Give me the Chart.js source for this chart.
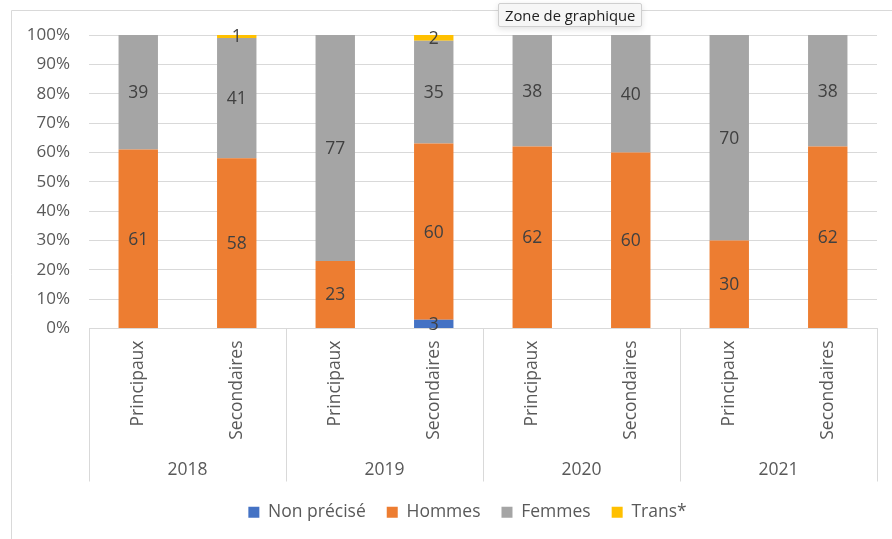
<!DOCTYPE html>
<html>
<head>
<meta charset="utf-8">
<script src="https://cdn.jsdelivr.net/npm/chart.js@4.4.1/dist/chart.umd.min.js"></script>
<style>
  body { margin: 0; background: #fff; }
  #wrap { position: relative; width: 892px; height: 539px; }
  #tip {
    position: absolute; left: 498px; top: 3px; height: 22px; padding: 0 6px;
    background: #f6f6f6; border: 1px solid #cfcfcf; border-radius: 2px;
    box-shadow: 0 2px 6px rgba(0,0,0,0.12);
    font: 14.8px "Open Sans", sans-serif; color: #222; line-height: 22px;
  }
</style>
</head>
<body>
<div id="wrap">
  <canvas id="chart" width="892" height="539"></canvas>
  <div id="tip">Zone de graphique</div>
</div>
<script>
const years = ['2018', '2019', '2020', '2021'];
const categories = ['Principaux', 'Secondaires', 'Principaux', 'Secondaires', 'Principaux', 'Secondaires', 'Principaux', 'Secondaires'];
const nonPrecise = [0, 0, 0, 3, 0, 0, 0, 0];
const hommes = [61, 58, 23, 60, 62, 60, 30, 62];
const femmes = [39, 41, 77, 35, 38, 40, 70, 38];
const trans = [0, 1, 0, 2, 0, 0, 0, 0];

const FONT = '"Open Sans", sans-serif';
const FS = 17.5;

// frame, year labels and separators
const decor = {
    id: 'decor',
    afterLayout(chart) {
        // move the legend a bit like in the original
        chart.legend.left += 29;
        chart.legend.right += 29;
        chart.legend.top += 3;
        chart.legend.bottom += 3;
    },
    beforeDraw(chart) {
        const ctx = chart.ctx;
        ctx.save();
        ctx.strokeStyle = '#d9d9d9';
        ctx.lineWidth = 1;
        ctx.beginPath();
        ctx.moveTo(11.5, 539);
        ctx.lineTo(11.5, 10.5);
        ctx.lineTo(892, 10.5);
        ctx.stroke();
        ctx.restore();
    },
    afterDraw(chart) {
        const ctx = chart.ctx;
        const x = chart.scales.x;
        const area = chart.chartArea;
        const bottom = x.bottom + 2;
        const bounds = [area.left];
        for (let i = 2; i < categories.length; i += 2) {
            bounds.push((x.getPixelForValue(i - 1) + x.getPixelForValue(i)) / 2);
        }
        bounds.push(area.right);
        ctx.save();
        ctx.strokeStyle = '#d9d9d9';
        ctx.lineWidth = 1;
        bounds.forEach(b => {
            ctx.beginPath();
            ctx.moveTo(Math.round(b) + 0.5, area.bottom);
            ctx.lineTo(Math.round(b) + 0.5, bottom);
            ctx.stroke();
        });
        ctx.fillStyle = '#595959';
        ctx.font = FS + 'px ' + FONT;
        ctx.textAlign = 'center';
        ctx.textBaseline = 'middle';
        years.forEach((y, i) => {
            ctx.fillText(y, (bounds[i] + bounds[i + 1]) / 2, bottom - 11);
        });
        ctx.restore();
    }
};

// value labels in the segments
const valueLabels = {
    id: 'valueLabels',
    afterDatasetsDraw(chart) {
        const ctx = chart.ctx;
        ctx.save();
        ctx.fillStyle = '#404040';
        ctx.font = FS + 'px ' + FONT;
        ctx.textAlign = 'center';
        ctx.textBaseline = 'middle';
        chart.data.datasets.forEach((ds, di) => {
            const meta = chart.getDatasetMeta(di);
            meta.data.forEach((bar, i) => {
                const v = ds.data[i];
                if (!v) return;
                const p = bar.getProps(['x', 'y', 'base'], true);
                ctx.fillText(v, p.x, (p.y + p.base) / 2 + 1);
            });
        });
        ctx.restore();
    }
};

new Chart(document.getElementById('chart'), {
    type: 'bar',
    data: {
        labels: categories,
        datasets: [
            { label: 'Non précisé', data: nonPrecise, backgroundColor: '#4472c4' },
            { label: 'Hommes', data: hommes, backgroundColor: '#ed7d31' },
            { label: 'Femmes', data: femmes, backgroundColor: '#a5a5a5' },
            { label: 'Trans*', data: trans, backgroundColor: '#ffc000' }
        ]
    },
    options: {
        responsive: false,
        animation: false,
        layout: { padding: { left: 0, right: 15, top: 35, bottom: 11 } },
        datasets: { bar: { barPercentage: 0.4, categoryPercentage: 1 } },
        scales: {
            x: {
                stacked: true,
                grid: { display: false, drawTicks: false },
                border: { display: true, color: '#d9d9d9' },
                ticks: {
                    color: '#595959', font: { family: FONT, size: FS },
                    minRotation: 90, maxRotation: 90, padding: 12, autoSkip: false
                },
                afterFit(scale) { scale.height = 151; }
            },
            y: {
                stacked: true, min: 0, max: 100,
                grid: { color: '#d9d9d9', drawTicks: false },
                border: { display: false },
                ticks: {
                    stepSize: 10, padding: 19, color: '#595959',
                    font: { family: FONT, size: 17 },
                    callback: v => v + '%'
                },
                afterFit(scale) { scale.width = 89; }
            }
        },
        plugins: {
            legend: {
                position: 'bottom',
                labels: {
                    boxWidth: 11, boxHeight: 11, padding: 21,
                    color: '#595959', font: { family: FONT, size: FS }
                }
            },
            tooltip: { enabled: false }
        }
    },
    plugins: [decor, valueLabels]
});
</script>
</body>
</html>
